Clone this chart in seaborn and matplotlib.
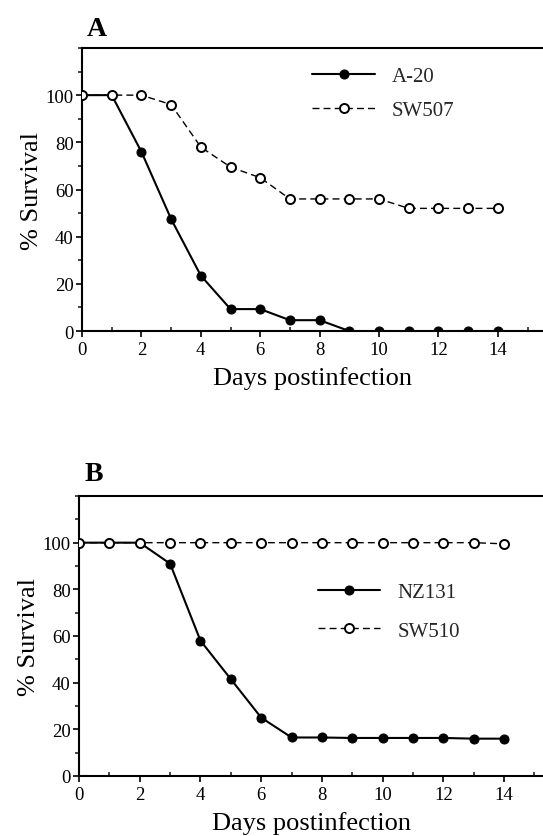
import matplotlib
matplotlib.use("Agg")
import matplotlib.pyplot as plt
import seaborn as sns
import pandas as pd
from matplotlib.ticker import MultipleLocator

sns.set_theme(style="ticks")
plt.rcParams['font.family'] = ['Liberation Serif', 'DejaVu Serif']

days = list(range(0, 15))
a20 = [100, 100, 76, 47.5, 23.5, 9.3, 9.3, 4.6, 4.6, 0, 0, 0, 0, 0, 0]
sw507 = [100, 100, 100, 96, 78, 69.5, 65, 56, 56, 56, 56, 52, 52, 52, 52]
nz131 = [100, 100, 100, 91, 58, 41.5, 25, 16.5, 16.5, 16.3, 16.3, 16.3, 16.3, 16, 16]
sw510 = [100, 100, 100, 100, 100, 100, 100, 100, 100, 100, 100, 100, 100, 100, 99.5]

panels = [
    ("A", "A-20", a20, "SW507", sw507, [0.151, 0.6033, 0.849, 0.3382], 15.52,
     (0.50, 0.935), 0.7, 1.026),
    ("B", "NZ131", nz131, "SW510", sw510, [0.1455, 0.0717, 0.8545, 0.3345], 15.28,
     (0.515, 0.69), 0.9, 1.035),
]

fig = plt.figure(figsize=(5.43, 8.37), dpi=100)

for letter, n1, v1, n2, v2, pos, xmax, legpos, lspace, ty in panels:
    ax = fig.add_axes(pos)
    df1 = pd.DataFrame({"day": days, "surv": v1})
    df2 = pd.DataFrame({"day": days, "surv": v2})
    sns.lineplot(data=df1, x="day", y="surv", ax=ax, color="black", lw=1.5,
                 marker="o", markersize=6.5, markerfacecolor="black",
                 markeredgecolor="black", label=n1, zorder=3)
    sns.lineplot(data=df2, x="day", y="surv", ax=ax, color="black", lw=1.0,
                 linestyle=(0, (5, 3)), marker="o", markersize=6.5,
                 markerfacecolor="white", markeredgecolor="black",
                 markeredgewidth=1.4, label=n2, zorder=4)
    ax.set_xlim(0, xmax)
    ax.set_ylim(0, 120)
    ax.set_xticks(range(0, 15, 2))
    ax.xaxis.set_minor_locator(MultipleLocator(1))
    ax.set_yticks(range(0, 101, 20))
    ax.yaxis.set_minor_locator(MultipleLocator(10))
    for s in ["left", "bottom", "top"]:
        ax.spines[s].set_visible(True)
        ax.spines[s].set_color("black")
        ax.spines[s].set_linewidth(1.5)
    ax.spines["right"].set_visible(False)
    ax.tick_params(axis="x", which="major", direction="out", length=4, width=1.2,
                   labelsize=13.5, pad=3, colors="black")
    ax.tick_params(axis="x", which="minor", direction="in", length=3, width=1.2)
    ax.tick_params(axis="y", which="major", direction="out", length=4, width=1.2,
                   labelsize=13.5, pad=2, colors="black")
    ax.tick_params(axis="y", which="minor", direction="out", length=3, width=1.2)
    ax.set_xlabel("Days postinfection", fontsize=19, labelpad=6, color="black")
    ax.set_ylabel("% Survival", fontsize=19, labelpad=2, color="black")
    ax.text(0.011, ty, letter, transform=ax.transAxes, fontsize=20,
            fontweight="bold", ha="left", va="bottom", color="black")
    ax.set_facecolor("white")
    ax.legend(loc="upper left", bbox_to_anchor=legpos, frameon=False,
              fontsize=15, handlelength=3.0, handletextpad=0.8,
              labelspacing=lspace, borderaxespad=0, borderpad=0)

fig.savefig("out.png", dpi=100, facecolor="white")
